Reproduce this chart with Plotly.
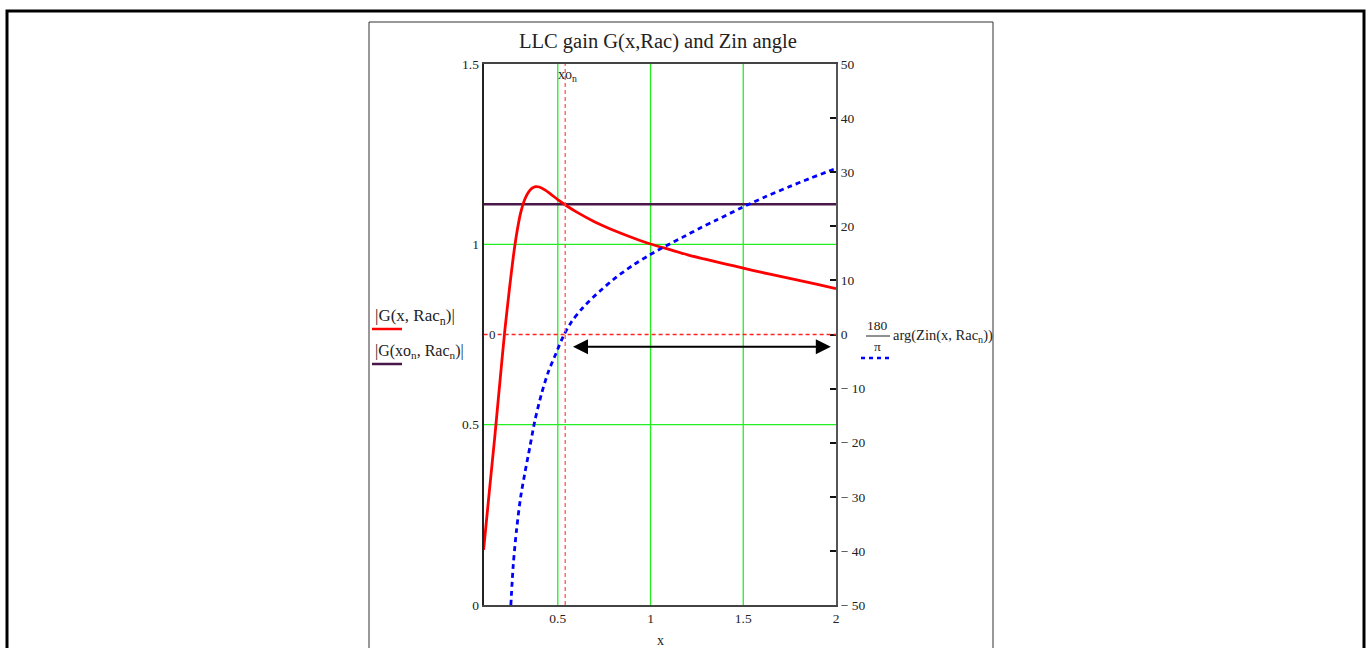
import plotly.graph_objects as go

W, H = 1370, 648

# ---------------- data ----------------
x_gain = [0.1, 0.13, 0.16, 0.19, 0.215, 0.24, 0.26, 0.28, 0.3, 0.32, 0.34, 0.36, 0.38,
          0.40, 0.43, 0.46, 0.5, 0.547, 0.6, 0.7, 0.8, 0.9, 1.0, 1.1, 1.2, 1.3, 1.4,
          1.5, 1.6, 1.7, 1.8, 1.9, 2.0]
gain = [0.153, 0.31, 0.465, 0.63, 0.764, 0.88, 0.965, 1.035, 1.088, 1.122, 1.143, 1.155, 1.16,
        1.159, 1.151, 1.14, 1.124, 1.107, 1.09, 1.062, 1.039, 1.019, 1.001, 0.986, 0.971,
        0.958, 0.946, 0.934, 0.922, 0.911, 0.9, 0.889, 0.877]

x_phase = [0.247, 0.26, 0.278, 0.3, 0.323, 0.35, 0.376, 0.412, 0.448, 0.489, 0.53, 0.575,
           0.636, 0.726, 0.816, 0.905, 0.995, 1.084, 1.174, 1.263, 1.353, 1.488, 1.622,
           1.747, 1.855, 1.962, 2.0]
phase_deg = [-50, -42.5, -36, -30, -25.5, -20.7, -16, -11, -7, -3.6, -0.3, 2.4,
             5.0, 8.0, 10.6, 12.8, 14.7, 16.4, 18.0, 19.6, 21.1, 23.4, 25.5,
             27.3, 28.8, 30.2, 30.7]

xo_n = 0.54
G_xo = 1.111
x_range = [0.1, 2.0]
arrow_x = [0.574, 1.972]
arrow_deg = -2.25

x_ticks = [0.5, 1, 1.5, 2]
x_ticktext = ["0.5", "1", "1.5", "2"]
x_grid = [0.5, 1, 1.5]
yl_ticks = [0, 0.5, 1, 1.5]
yl_ticktext = ["0", "0.5", "1", "1.5"]
yl_grid = [0.5, 1]
yr_ticks = [-50, -40, -30, -20, -10, 0, 10, 20, 30, 40, 50]
yr_ticktext = ["\u2212 50", "\u2212 40", "\u2212 30", "\u2212 20", "\u2212 10", "0",
               "10", "20", "30", "40", "50"]

# ---------------- helpers (pixel -> paper) ----------------
def X(px):
    return px / W

def Y(py):
    return 1 - py / H

SERIF = "Liberation Serif, Times New Roman, serif"
TXT = "#222222"
GRID = "#22ee22"

fig = go.Figure()

# purple constant line
fig.add_trace(go.Scatter(x=x_range, y=[G_xo, G_xo], mode="lines",
                         line=dict(color="#4a1848", width=2.6), showlegend=False,
                         hoverinfo="skip"))
# red gain curve
fig.add_trace(go.Scatter(x=x_gain, y=gain, mode="lines",
                         line=dict(color="#ff0000", width=2.8, shape="spline", smoothing=0.6),
                         showlegend=False))
# blue phase curve
fig.add_trace(go.Scatter(x=x_phase, y=phase_deg, mode="lines", yaxis="y2",
                         line=dict(color="#0000ff", width=2.8, dash="5px,4px",
                                   shape="spline", smoothing=0.8),
                         showlegend=False))

shapes = []
# grid lines (green)
for gx in x_grid:
    shapes.append(dict(type="line", xref="x", yref="y", x0=gx, x1=gx, y0=0, y1=1.5,
                       line=dict(color=GRID, width=1.3), layer="below"))
for gy in yl_grid:
    shapes.append(dict(type="line", xref="x", yref="y", x0=x_range[0], x1=x_range[1], y0=gy, y1=gy,
                       line=dict(color=GRID, width=1.3), layer="below"))
# xo_n marker (vertical dashed)
shapes.append(dict(type="line", xref="x", yref="y", x0=xo_n, x1=xo_n, y0=0, y1=1.5,
                   line=dict(color="#ff5555", width=1.3, dash="4px,3px"), layer="above"))
# zero-degree marker (horizontal dashed, right axis)
shapes.append(dict(type="line", xref="x", yref="y2", x0=x_range[0], x1=x_range[1], y0=0, y1=0,
                   line=dict(color="#ff2222", width=1.3, dash="4px,3px"), layer="above"))
# legend samples
shapes.append(dict(type="line", xref="paper", yref="paper", x0=X(372), x1=X(402), y0=Y(329), y1=Y(329),
                   line=dict(color="#ff0000", width=2.5)))
shapes.append(dict(type="line", xref="paper", yref="paper", x0=X(372), x1=X(402), y0=Y(364), y1=Y(364),
                   line=dict(color="#4a1848", width=2.5)))
shapes.append(dict(type="line", xref="paper", yref="paper", x0=X(861), x1=X(890), y0=Y(358), y1=Y(358),
                   line=dict(color="#0000ff", width=2.5, dash="4px,4px")))
# fraction bar 180/pi
shapes.append(dict(type="line", xref="paper", yref="paper", x0=X(866), x1=X(890), y0=Y(336), y1=Y(336),
                   line=dict(color=TXT, width=1)))
# inner frame
shapes.append(dict(type="rect", xref="paper", yref="paper", x0=X(369), x1=X(993), y0=Y(22), y1=Y(700),
                   line=dict(color="#333333", width=1)))
# outer thick frame
shapes.append(dict(type="rect", xref="paper", yref="paper", x0=X(7), x1=X(1364), y0=Y(11), y1=Y(720),
                   line=dict(color="#000000", width=3)))

annotations = []
annotations.append(dict(text="LLC gain G(x,Rac) and Zin angle", xref="paper", yref="paper",
                        x=X(658), y=Y(42), showarrow=False, xanchor="center", yanchor="middle",
                        font=dict(family=SERIF, size=20.5, color=TXT)))
annotations.append(dict(text="x", xref="paper", yref="paper", x=X(660), y=Y(640), showarrow=False,
                        xanchor="center", yanchor="middle", font=dict(family=SERIF, size=14, color=TXT)))
annotations.append(dict(text="xo<sub>n</sub>", xref="paper", yref="paper", x=X(556), y=Y(76),
                        showarrow=False, xanchor="left", yanchor="middle",
                        font=dict(family=SERIF, size=14, color=TXT)))
annotations.append(dict(text="0", xref="x", yref="y2", x=0.149, y=0, showarrow=False,
                        xanchor="center", yanchor="middle", bgcolor="white", borderpad=0,
                        font=dict(family=SERIF, size=13, color=TXT)))
annotations.append(dict(text="|G(x, Rac<sub>n</sub>)|", xref="paper", yref="paper", x=X(373), y=Y(317),
                        showarrow=False, xanchor="left", yanchor="middle",
                        font=dict(family=SERIF, size=17, color=TXT)))
annotations.append(dict(text="|G(xo<sub>n</sub>, Rac<sub>n</sub>)|", xref="paper", yref="paper",
                        x=X(373), y=Y(351), showarrow=False, xanchor="left", yanchor="middle",
                        font=dict(family=SERIF, size=16, color=TXT)))
annotations.append(dict(text="180", xref="paper", yref="paper", x=X(878), y=Y(325), showarrow=False,
                        xanchor="center", yanchor="middle", font=dict(family=SERIF, size=13.5, color=TXT)))
annotations.append(dict(text="\u03c0", xref="paper", yref="paper", x=X(878), y=Y(346), showarrow=False,
                        xanchor="center", yanchor="middle", font=dict(family=SERIF, size=13.5, color=TXT)))
annotations.append(dict(text="arg(Zin(x, Rac<sub>n</sub>))", xref="paper", yref="paper", x=X(891), y=Y(336),
                        showarrow=False, xanchor="left", yanchor="middle",
                        font=dict(family=SERIF, size=14.5, color=TXT)))
# double-headed arrow
annotations.append(dict(text="", xref="x", yref="y2", x=arrow_x[1], y=arrow_deg,
                        axref="x", ayref="y2", ax=arrow_x[0], ay=arrow_deg,
                        showarrow=True, arrowhead=2, startarrowhead=2, arrowside="end+start",
                        arrowsize=1.5, startarrowsize=1.5, arrowwidth=2, arrowcolor="black",
                        standoff=0, startstandoff=0))

fig.update_layout(
    width=W, height=H,
    margin=dict(l=0, r=0, t=0, b=0, pad=0, autoexpand=False),
    paper_bgcolor="white", plot_bgcolor="white",
    showlegend=False,
    shapes=shapes, annotations=annotations,
    xaxis=dict(domain=[X(483.6), X(836)], range=x_range, tickvals=x_ticks, ticktext=x_ticktext,
               showgrid=False, zeroline=False, automargin=False,
               showline=True, linecolor="#444444", linewidth=2, mirror=True, ticks="",
               tickfont=dict(family=SERIF, size=13.5, color=TXT)),
    yaxis=dict(domain=[Y(605), Y(64)], range=[0, 1.5], tickvals=yl_ticks, ticktext=yl_ticktext,
               showgrid=False, zeroline=False, automargin=False,
               showline=True, linecolor="#222222", linewidth=2, ticks="",
               tickfont=dict(family=SERIF, size=13.5, color=TXT)),
    yaxis2=dict(overlaying="y", side="right", anchor="x", range=[-50, 50], automargin=False,
                tickvals=yr_ticks, ticktext=yr_ticktext, showgrid=False, zeroline=False,
                showline=True, linecolor="#555555", linewidth=2, ticks="inside", ticklen=6,
                tickcolor="#111111", tickwidth=1.5,
                tickfont=dict(family=SERIF, size=13.5, color=TXT)),
)

fig.write_html("out.html")
